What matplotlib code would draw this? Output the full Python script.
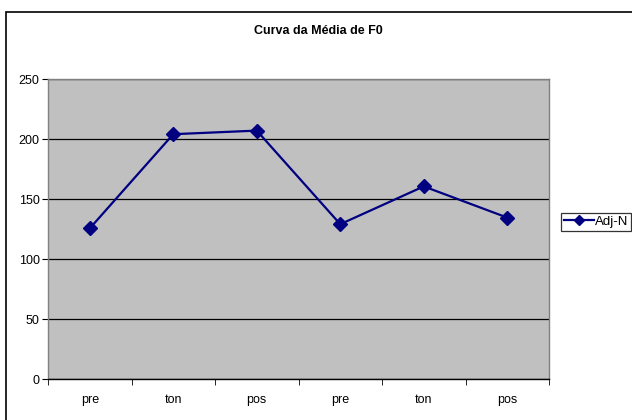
import matplotlib
matplotlib.use("agg")
import matplotlib.pyplot as plt
from matplotlib.patches import Rectangle

categories = ['pre', 'ton', 'pos', 'pre', 'ton', 'pos']
adj_n = [125.5, 204, 207, 129, 160.5, 134.5]
y_ticks = [0, 50, 100, 150, 200, 250]

plt.rcParams['font.family'] = ['Liberation Sans', 'DejaVu Sans']

fig = plt.figure(figsize=(6.32, 4.2), dpi=100)
W, H = 632.0, 420.0

# outer chart border (runs off right and bottom edges)
fig.patches.append(Rectangle((6 / W, -0.1), 1.0, 1 - 12 / H + 0.1,
                             transform=fig.transFigure, fill=False,
                             edgecolor='black', linewidth=1.2, clip_on=False))

ax = fig.add_axes([48 / W, 1 - 379 / H, 501 / W, 300 / H])
ax.set_facecolor('#c0c0c0')

x = list(range(len(categories)))
ax.plot(x, adj_n, color='#000080', linewidth=1.6, marker='D', markersize=7,
        label='Adj-N', zorder=3)

ax.set_xlim(-0.5, len(categories) - 0.5)
ax.set_ylim(0, 250)
ax.set_yticks(y_ticks)
ax.yaxis.grid(True, color='black', linewidth=0.9)
ax.set_axisbelow(True)

ax.set_xticks(x)
ax.set_xticklabels(categories, fontsize=9)
ax.set_xticks([i - 0.5 for i in range(len(categories) + 1)], minor=True)
ax.tick_params(axis='x', which='major', length=0, pad=11)
ax.tick_params(axis='x', which='minor', length=4, direction='out', color='black')
ax.tick_params(axis='y', length=4, direction='out', labelsize=9, pad=2, color='black')

for side in ['top', 'right', 'left']:
    ax.spines[side].set_color('#808080')
    ax.spines[side].set_linewidth(1.0)
ax.spines['bottom'].set_color('black')
ax.spines['bottom'].set_linewidth(1.0)

fig.text(318 / W, 1 - 31 / H, 'Curva da Média de F0', ha='center', va='center',
         fontsize=9, fontweight='bold')

leg = fig.legend(loc='upper left', bbox_to_anchor=(561 / W, 1 - 213 / H),
                 fontsize=9.5, frameon=True, fancybox=False, handlelength=2.3,
                 borderpad=0.2, handletextpad=0.1, borderaxespad=0)
leg.get_frame().set_edgecolor('black')
leg.get_frame().set_linewidth(0.9)
for h in leg.legend_handles:
    h.set_markersize(5)

plt.savefig('out.png', dpi=100)
plt.close()
